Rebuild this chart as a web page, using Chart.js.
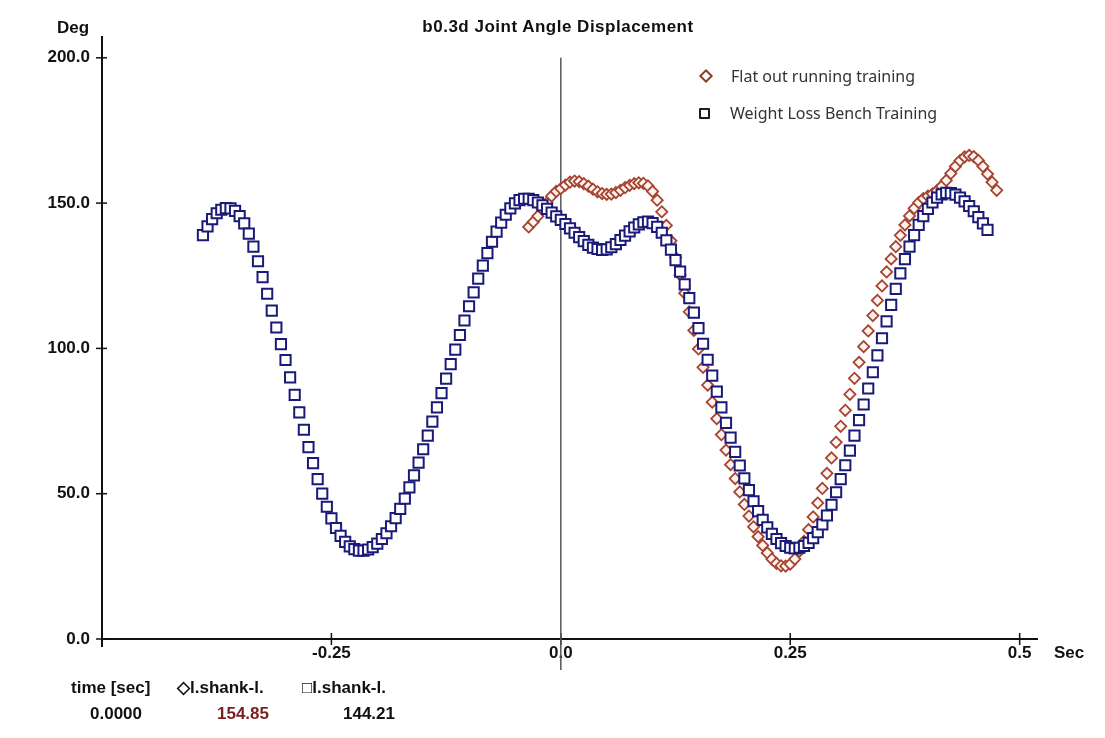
<!DOCTYPE html>
<html lang="en">
<head>
  <meta charset="UTF-8" />
  <title>b0.3d Joint Angle Displacement</title>
  <style>
    body {
      margin: 0;
      background: #fff;
      font-family: 'Liberation Sans', Arial, sans-serif;
      color: #111;
    }
    #wrap {
      position: relative;
      width: 1105px;
      height: 738px;
    }
    .lbl {
      position: absolute;
      font-weight: bold;
      font-size: 17px;
      line-height: 20px;
      height: 20px;
      white-space: nowrap;
    }
    #title {
      left: 0; width: 1116px; top: 17px;
      text-align: center;
      font-size: 17px;
      letter-spacing: 0.5px;
    }
    .legend {
      position: absolute;
      left: 699px;
      font-family: 'Noto Sans', sans-serif;
      font-size: 16px;
      line-height: 22px;
      color: #333;
    }
    .legend span.mk {
      display: inline-block;
      vertical-align: middle;
      margin-right: 20px;
      margin-top: -3px;
    }
    .mk.dia {
      width: 6px; height: 6px;
      border: 2px solid #8b3a2a;
      transform: rotate(45deg);
      margin-left: 2px;
    }
    .mk.sq {
      width: 7px; height: 7px;
      border: 2px solid #1a1a2a;
      border-radius: 1px;
    }
  </style>
</head>
<body>
<div id="wrap">
  <canvas id="angleChart"></canvas>
  <div class="lbl" id="title">b0.3d Joint Angle Displacement</div>
  <div class="lbl" style="left:57px; top:18px;">Deg</div>
  <div class="lbl" style="left:1054px; top:643px;">Sec</div>
  <div class="legend" style="top:65px;"><span class="mk dia"></span>Flat out running training</div>
  <div class="legend" style="top:102px;"><span class="mk sq"></span>Weight Loss Bench Training</div>
  <div class="lbl" style="left:71px; top:678px;">time [sec]</div>
  <div class="lbl" style="left:177px; top:678px;">◇l.shank-l.</div>
  <div class="lbl" style="left:302px; top:678px;">□l.shank-l.</div>
  <div class="lbl" id="rTime" style="left:90px; top:704px;"></div>
  <div class="lbl" id="rRed" style="left:217px; top:704px; color:#7a1f1f;"></div>
  <div class="lbl" id="rBlue" style="left:343px; top:704px;"></div>
</div>

<script src="https://cdn.jsdelivr.net/npm/chart.js"></script>
<script>
  // sampling of both traces (seconds)
  const sampleStep = 0.005;
  const blueStart = -0.390;
  const redStart = -0.035;

  // Weight Loss Bench Training (squares), deg
  const blueValues = [
    139.0, 142.0, 144.5, 146.5, 147.7, 148.3, 148.2, 147.3, 145.5, 143.0,
    139.5, 135.0, 130.0, 124.5, 118.8, 113.0, 107.2, 101.5, 96.0, 90.0,
    84.0, 78.0, 72.0, 66.0, 60.5, 55.0, 50.0, 45.5, 41.5, 38.2,
    35.5, 33.4, 31.9, 30.9, 30.4, 30.4, 30.8, 31.6, 32.8, 34.4,
    36.4, 38.8, 41.6, 44.8, 48.3, 52.2, 56.3, 60.7, 65.3, 70.0,
    74.8, 79.7, 84.6, 89.6, 94.6, 99.6, 104.6, 109.6, 114.5, 119.3,
    124.0, 128.5, 132.8, 136.7, 140.2, 143.3, 146.0, 148.2, 149.9, 151.0,
    151.5, 151.5, 151.0, 150.2, 149.2, 148.0, 146.7, 145.4, 144.2, 142.8,
    141.3, 139.8, 138.3, 136.9, 135.6, 134.7, 134.2, 133.9, 134.1, 134.8,
    135.9, 137.3, 138.8, 140.3, 141.6, 142.7, 143.4, 143.6, 143.1, 141.8,
    139.8, 137.2, 134.0, 130.4, 126.4, 122.0, 117.3, 112.3, 107.0, 101.6,
    96.1, 90.6, 85.1, 79.7, 74.4, 69.3, 64.4, 59.7, 55.3, 51.2,
    47.4, 44.0, 41.0, 38.4, 36.2, 34.4, 33.0, 32.0, 31.4, 31.2,
    31.4, 32.0, 33.1, 34.7, 36.8, 39.4, 42.5, 46.2, 50.5, 55.0,
    59.8, 64.8, 70.0, 75.3, 80.7, 86.2, 91.8, 97.6, 103.5, 109.3,
    115.0, 120.5, 125.8, 130.7, 135.0, 139.0, 142.5, 145.5, 148.0, 150.2,
    151.9, 153.0, 153.5, 153.4, 152.9, 151.9, 150.6, 149.0, 147.2, 145.2,
    143.0, 140.8
  ];

  // Flat out running training (diamonds), deg
  const redValues = [
    141.8, 143.5, 145.5, 147.8, 150.2, 152.4, 154.0, 155.0, 156.2, 157.2,
    157.6, 157.4, 156.7, 155.8, 154.8, 153.9, 153.3, 153.0, 153.1, 153.6,
    154.4, 155.3, 156.1, 156.7, 157.0, 156.8, 155.9, 154.0, 151.0, 147.0,
    142.3, 137.0, 131.3, 125.3, 119.0, 112.6, 106.2, 99.8, 93.5, 87.4,
    81.5, 75.8, 70.3, 65.0, 60.0, 55.2, 50.6, 46.3, 42.3, 38.6,
    35.2, 32.2, 29.6, 27.5, 26.0, 25.2, 25.1, 25.8, 27.5, 30.2,
    33.6, 37.6, 42.0, 46.8, 51.8, 57.0, 62.3, 67.7, 73.2, 78.7,
    84.2, 89.7, 95.2, 100.6, 106.0, 111.3, 116.5, 121.5, 126.3, 130.8,
    135.0, 138.9, 142.5, 145.6, 148.2, 150.2, 151.5, 152.4, 153.2, 154.3,
    155.8, 157.8, 160.2, 162.6, 164.6, 165.9, 166.4, 166.0, 164.7, 162.6,
    160.0, 157.2, 154.4
  ];

  const xTicks = [-0.25, 0, 0.25, 0.5];
  const yTicks = [0, 50, 100, 150, 200];

  // cursor readout shown under the plot
  const readoutTime = '0.0000';
  const readoutRed = '154.85';
  const readoutBlue = '144.21';

  document.getElementById('rTime').textContent = readoutTime;
  document.getElementById('rRed').textContent = readoutRed;
  document.getElementById('rBlue').textContent = readoutBlue;

  function toPoints(start, values) {
    return values.map((v, i) => ({ x: +(start + i * sampleStep).toFixed(3), y: v }));
  }

  const tickFont = { family: "'Liberation Sans', Arial, sans-serif", size: 17, weight: 'bold' };

  // axis lines with crossing tick marks + the cursor line at t = 0
  const axesPlugin = {
    id: 'axesPlugin',
    beforeDatasetsDraw(chart) {
      const { ctx, chartArea: a, scales: { x, y } } = chart;
      const seg = (x1, y1, x2, y2) => {
        ctx.beginPath(); ctx.moveTo(x1, y1); ctx.lineTo(x2, y2); ctx.stroke();
      };
      ctx.save();
      ctx.strokeStyle = '#111';
      ctx.lineWidth = 2;
      seg(a.left, a.top, a.left, a.bottom + 8);
      seg(a.left, a.bottom, a.right, a.bottom);
      ctx.lineWidth = 1.5;
      yTicks.forEach(v => {
        const py = y.getPixelForValue(v);
        seg(a.left - 6, py, a.left + 5, py);
      });
      xTicks.forEach(v => {
        const px = x.getPixelForValue(v);
        seg(px, a.bottom - 6, px, a.bottom + 6);
      });
      const x0 = x.getPixelForValue(0);
      ctx.strokeStyle = '#555';
      ctx.lineWidth = 1.5;
      seg(x0, y.getPixelForValue(200), x0, a.bottom + 31);
      ctx.restore();
    }
  };

  const ctx = document.getElementById('angleChart').getContext('2d');
  new Chart(ctx, {
    type: 'scatter',
    data: {
      datasets: [{
        label: 'Weight Loss Bench Training',
        data: toPoints(blueStart, blueValues),
        pointStyle: 'rect',
        pointRadius: 7.2,
        pointBorderWidth: 2,
        borderColor: '#1a1a78',
        backgroundColor: '#ffffff',
        order: 0
      }, {
        label: 'Flat out running training',
        data: toPoints(redStart, redValues),
        pointStyle: 'rectRot',
        pointRadius: 5.6,
        pointBorderWidth: 1.8,
        borderColor: '#a6442f',
        backgroundColor: '#fff4f2',
        order: 1
      }]
    },
    options: {
      responsive: true,
      maintainAspectRatio: false,
      animation: false,
      layout: { padding: { left: 40, right: 67, top: 36, bottom: 0 } },
      plugins: {
        legend: { display: false },
        title: { display: false },
        tooltip: { enabled: false }
      },
      scales: {
        x: {
          type: 'linear',
          min: -0.5,
          max: 0.52,
          afterBuildTicks: s => { s.ticks = xTicks.map(v => ({ value: v })); },
          afterFit: s => { s.height = 99; },
          grid: { display: false, drawTicks: false, tickLength: 0 },
          border: { display: false },
          ticks: {
            font: tickFont,
            color: '#111',
            padding: 4,
            maxRotation: 0,
            callback: v => (v === 0 ? '0.0' : String(v))
          }
        },
        y: {
          min: 0,
          max: 207.5,
          afterBuildTicks: s => { s.ticks = yTicks.map(v => ({ value: v })); },
          afterFit: s => { s.width = 62; },
          grid: { display: false, drawTicks: false, tickLength: 0 },
          border: { display: false },
          ticks: {
            font: tickFont,
            color: '#111',
            padding: 12,
            callback: v => v.toFixed(1)
          }
        }
      }
    },
    plugins: [axesPlugin]
  });
</script>
</body>
</html>
